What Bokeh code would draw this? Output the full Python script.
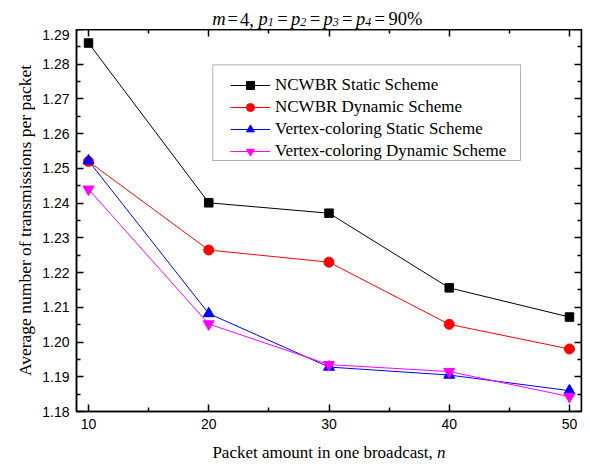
from bokeh.plotting import figure
from bokeh.layouts import column
from bokeh.models import (Label, Legend, LegendItem, BoxAnnotation, LinearAxis,
                          FixedTicker, Range1d, CustomJSTickFormatter, PrintfTickFormatter)
from bokeh.embed import file_html
from bokeh.resources import INLINE

# ---------------- data ----------------
packets = [10, 20, 30, 40, 50]
ncwbr_static = [1.2861, 1.2401, 1.2371, 1.2156, 1.2072]
ncwbr_dynamic = [1.2520, 1.2265, 1.2230, 1.2051, 1.1980]
vc_static = [1.2522, 1.2082, 1.1928, 1.1905, 1.1860]
vc_dynamic = [1.2440, 1.2052, 1.1935, 1.1915, 1.1843]

series_names = ["NCWBR Static Scheme", "NCWBR Dynamic Scheme",
                "Vertex-coloring Static Scheme", "Vertex-coloring Dynamic Scheme"]
x_ticks = [10, 20, 30, 40, 50]
x_minor = [15, 25, 35, 45]
y_ticks = [1.18, 1.19, 1.20, 1.21, 1.22, 1.23, 1.24, 1.25, 1.26, 1.27, 1.28, 1.29]
y_minor = [1.185, 1.195, 1.205, 1.215, 1.225, 1.235, 1.245, 1.255, 1.265, 1.275, 1.285]
X_MIN, X_MAX = 9, 51
Y_MIN, Y_MAX = 1.18, 1.29

SERIF = "Liberation Serif"
SANS = "Liberation Sans"

W = 587
FRAME_TOP, FRAME_BOTTOM = 29, 411
TITLE_H = FRAME_TOP
BL, BR, BT, BB = 76, 6, 0, 26
FW = W - BL - BR
MAIN_H = BT + (FRAME_BOTTOM - FRAME_TOP) + BB
XLAB_H = 462 - TITLE_H - MAIN_H

# ---------------- main figure ----------------
p = figure(width=W, height=MAIN_H,
           min_border_left=BL, min_border_top=BT, min_border_bottom=BB, min_border_right=BR,
           x_range=Range1d(X_MIN, X_MAX), y_range=Range1d(Y_MIN, Y_MAX),
           output_backend="svg", toolbar_location=None, title=None)
p.xgrid.visible = False
p.ygrid.visible = False
p.outline_line_color = "black"
p.outline_line_width = 1.5
p.background_fill_color = "white"
p.border_fill_color = "white"

xt = FixedTicker(ticks=x_ticks, minor_ticks=x_minor)
yt = FixedTicker(ticks=y_ticks, minor_ticks=y_minor)

def style_axis(ax, show_labels):
    ax.axis_line_color = "black"
    ax.axis_line_width = 1.5
    ax.major_tick_in = 7
    ax.major_tick_out = 0
    ax.minor_tick_in = 4
    ax.minor_tick_out = 0
    ax.major_tick_line_width = 1.5
    ax.minor_tick_line_width = 1.5
    ax.major_tick_line_color = "black"
    ax.minor_tick_line_color = "black"
    if show_labels:
        ax.major_label_text_font = SANS
        ax.major_label_text_font_size = "14px"
        ax.major_label_text_color = "black"
        ax.major_label_standoff = 7
    else:
        ax.formatter = CustomJSTickFormatter(code="return ''")
        ax.major_label_text_font_size = "0px"
        ax.major_label_standoff = 0
        ax.axis_label_standoff = 0

xa = p.xaxis[0]
xa.ticker = xt
style_axis(xa, True)
xa.axis_label = None

ya = p.yaxis[0]
ya.ticker = yt
ya.formatter = PrintfTickFormatter(format="%.2f")
style_axis(ya, True)
ya.axis_label = "Average number of transmissions per packet"
ya.axis_label_text_font = SERIF
ya.axis_label_text_font_style = "normal"
ya.axis_label_text_font_size = "17.5px"
ya.axis_label_text_color = "black"
ya.axis_label_standoff = 4

# mirrored tick axes on the top and right edges (fixed location -> no panel space)
top_ax = LinearAxis(ticker=xt, fixed_location=Y_MAX)
style_axis(top_ax, False)
p.add_layout(top_ax, "above")
right_ax = LinearAxis(ticker=yt, fixed_location=X_MAX)
style_axis(right_ax, False)
p.add_layout(right_ax, "right")

# ---------------- series ----------------
colors = ["black", "red", "blue", "magenta"]
markers = ["square", "circle", "triangle", "inverted_triangle"]
sizes = [8.5, 10, 11, 11]
values = [ncwbr_static, ncwbr_dynamic, vc_static, vc_dynamic]

items = []
for name, vals, c, m, s in zip(series_names, values, colors, markers, sizes):
    lr = p.line(packets, vals, line_color=c, line_width=1)
    sr = p.scatter(packets, vals, marker=m, size=s, fill_color=c, line_color=c)
    items.append(LegendItem(label=name, renderers=[lr, sr]))

# legend frame (page coords approx. 212..520 x 64..160), screen units from frame bottom-left
p.add_layout(BoxAnnotation(left=212.3 - BL, right=520 - BL,
                           bottom=FRAME_BOTTOM - 160, top=FRAME_BOTTOM - 64.3,
                           left_units="screen", right_units="screen",
                           bottom_units="screen", top_units="screen",
                           fill_color="white", fill_alpha=1.0,
                           line_color="black", line_width=1))
legend = Legend(items=items, location=(230 - BL, FRAME_BOTTOM - 160.8), padding=0, margin=0,
                spacing=2, glyph_width=40, glyph_height=20, label_height=20, label_standoff=5,
                label_text_font=SERIF, label_text_font_size="17px",
                label_text_baseline="middle", label_text_color="black",
                border_line_color=None, background_fill_alpha=0)
p.add_layout(legend, "center")

# ---------------- title / x-label strips (mixed italic text) ----------------
REG = {" ": .25, "=": .564, ",": .25, "%": .833, "0": .5, "1": .5, "2": .5, "3": .5,
       "4": .5, "5": .5, "6": .5, "7": .5, "8": .5, "9": .5,
       "P": .556, "a": .444, "c": .444, "k": .5, "e": .444, "t": .278, "m": .778,
       "o": .5, "u": .5, "n": .5, "i": .278, "b": .5, "r": .333, "d": .5, "s": .389}
ITA = {"m": .722, "p": .5, "n": .5, "1": .5, "2": .5, "3": .5, "4": .5}

def width(text, italic, size):
    tab = ITA if italic else REG
    return sum(tab.get(ch, .5) for ch in text) * size

def total(pieces):
    t = 0
    for piece in pieces:
        t += piece if isinstance(piece, (int, float)) else width(piece[0], piece[1], piece[2])
    return t

def strip(h):
    # its frame is aligned with the main frame by the column layout
    f = figure(width=W, height=h, x_range=Range1d(0, FW), y_range=Range1d(0, h),
               x_axis_type=None, y_axis_type=None, min_border=0,
               min_border_left=BL, min_border_right=BR, title=None,
               output_backend="svg", toolbar_location=None)
    f.outline_line_color = None
    f.xgrid.visible = False
    f.ygrid.visible = False
    f.background_fill_color = "white"
    f.border_fill_color = "white"
    return f

def compose(fig, pieces, x0, y0):
    x = x0
    for piece in pieces:
        if isinstance(piece, (int, float)):
            x += piece
            continue
        text, italic, size, dy = piece
        fig.add_layout(Label(x=x, y=y0 + dy, text=text, text_font=SERIF,
                             text_font_size=f"{size}px",
                             text_font_style="italic" if italic else "normal",
                             text_color="black", text_baseline="alphabetic",
                             text_align="left"))
        x += width(text, italic, size)

TF, SF, SDY, G = 18.5, 12, -3, 3.4
title = [("m", True, TF, 0), 2, ("=", False, TF, 0), 2, ("4,", False, TF, 0), TF * 0.25]
for k in ["1", "2", "3", "4"]:
    title += [("p", True, TF, 0), (k, True, SF, SDY), G, ("=", False, TF, 0), G]
title += [("90%", False, TF, 0)]
title_fig = strip(TITLE_H)
compose(title_fig, title, 211.7 - BL, TITLE_H - 18.5)

xlab = [("Packet amount in one broadcast, ", False, 17, 0), ("n", True, 17, 0)]
xlab_fig = strip(XLAB_H)
compose(xlab_fig, xlab, FW / 2 - total(xlab) / 2, XLAB_H - (452 - (TITLE_H + MAIN_H)))

layout = column(title_fig, p, xlab_fig, spacing=0)
open("out.html", "w").write(file_html(layout, INLINE))
